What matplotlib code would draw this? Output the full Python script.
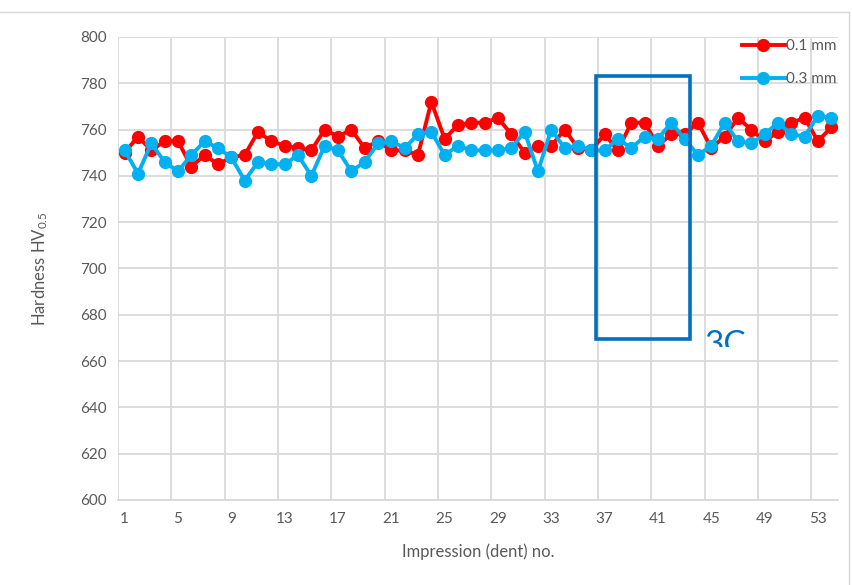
# hardness_profile.py
# Vickers hardness along the impression row for two measurement depths.

import matplotlib.pyplot as plt
from matplotlib.patches import Rectangle
from matplotlib.transforms import Bbox, TransformedBbox
import numpy as np

# ---- data ----
impressions = list(range(1, 55))
hv_01mm = [750, 757, 751, 755, 755, 744, 749, 745, 748, 749,
           759, 755, 753, 752, 751, 760, 757, 760, 752, 755,
           751, 751, 749, 772, 756, 762, 763, 763, 765, 758,
           750, 753, 753, 760, 752, 751, 758, 751, 763, 763,
           753, 758, 758, 763, 752, 757, 765, 760, 755, 759,
           763, 765, 755, 761]
hv_03mm = [751, 741, 754, 746, 742, 749, 755, 752, 748, 738,
           746, 745, 745, 749, 740, 753, 751, 742, 746, 754,
           755, 752, 758, 759, 749, 753, 751, 751, 751, 752,
           759, 742, 760, 752, 753, 751, 751, 756, 752, 757,
           756, 763, 756, 749, 753, 763, 755, 754, 758, 763,
           758, 757, 766, 765]
series_labels = ["0.1 mm", "0.3 mm"]
xtick_labels = list(range(1, 55, 4))
# --------------

RED = "#FF0000"
BLUE = "#00B0F0"
BOX_BLUE = "#0070C0"
GRID = "#D9D9D9"
TEXT = "#595959"

plt.rcParams["font.family"] = ["Lato", "DejaVu Sans"]
plt.rcParams["mathtext.fontset"] = "custom"
plt.rcParams["mathtext.rm"] = "Lato"
plt.rcParams["mathtext.it"] = "Lato:italic"

fig = plt.figure(figsize=(8.52, 5.85), dpi=100)
ax = fig.add_axes([0.1385, 0.1453, 0.845, 0.7915])

line_kw = dict(linewidth=2.8, marker="o", markersize=8.5, solid_joinstyle="round")
ax.plot(impressions, hv_01mm, color=RED, label=series_labels[0], zorder=3, **line_kw)
ax.plot(impressions, hv_03mm, color=BLUE, label=series_labels[1], zorder=4, **line_kw)

ax.set_xlim(0.5, 54.5)
ax.set_ylim(600, 800)
ax.set_yticks(np.arange(600, 801, 20))
ax.set_xticks(xtick_labels)
ax.set_xticks(np.arange(0.5, 55, 4), minor=True)

ax.grid(axis="y", which="major", color=GRID, linewidth=1.3)
ax.grid(axis="x", which="minor", color=GRID, linewidth=1.3)
ax.set_axisbelow(True)
for side in ["top", "right", "left"]:
    ax.spines[side].set_visible(False)
ax.spines["bottom"].set_color(GRID)
ax.spines["bottom"].set_linewidth(1.3)

ax.tick_params(axis="both", which="both", length=0, labelsize=11, labelcolor=TEXT)
ax.tick_params(axis="y", pad=8)
ax.tick_params(axis="x", pad=9)

ax.set_xlabel("Impression (dent) no.", fontsize=12, color=TEXT, labelpad=12)
ax.set_ylabel(r"Hardness HV$_{0.5}$", fontsize=12, color=TEXT, labelpad=22)

leg = ax.legend(loc="upper right", bbox_to_anchor=(1.013, 1.018), frameon=False,
                fontsize=11, handlelength=2.8, handletextpad=0.1,
                labelspacing=1.25, borderaxespad=0.3)
for t in leg.get_texts():
    t.set_color(TEXT)

# highlighted region
box = Rectangle((36.36, 669.5), 7.05, 113.7, fill=False,
                edgecolor=BOX_BLUE, linewidth=2.6, zorder=6)
ax.add_patch(box)

label = fig.text(705 / 852, 1 - 330 / 585, "3C", fontsize=24, color=BOX_BLUE,
                 ha="left", va="top", zorder=7)
label.set_clip_box(TransformedBbox(Bbox([[0.8, 1 - 347 / 585], [0.9, 1 - 320 / 585]]),
                                   fig.transFigure))
label.set_clip_on(True)

# faint outer frame of the chart area
fig.add_artist(plt.Line2D([0, 0.997], [1 - 12 / 585] * 2, color=GRID, linewidth=1,
                          transform=fig.transFigure))
fig.add_artist(plt.Line2D([0.997, 0.997], [0, 1 - 12 / 585], color=GRID, linewidth=1,
                          transform=fig.transFigure))

fig.savefig("out.png", dpi=100)
